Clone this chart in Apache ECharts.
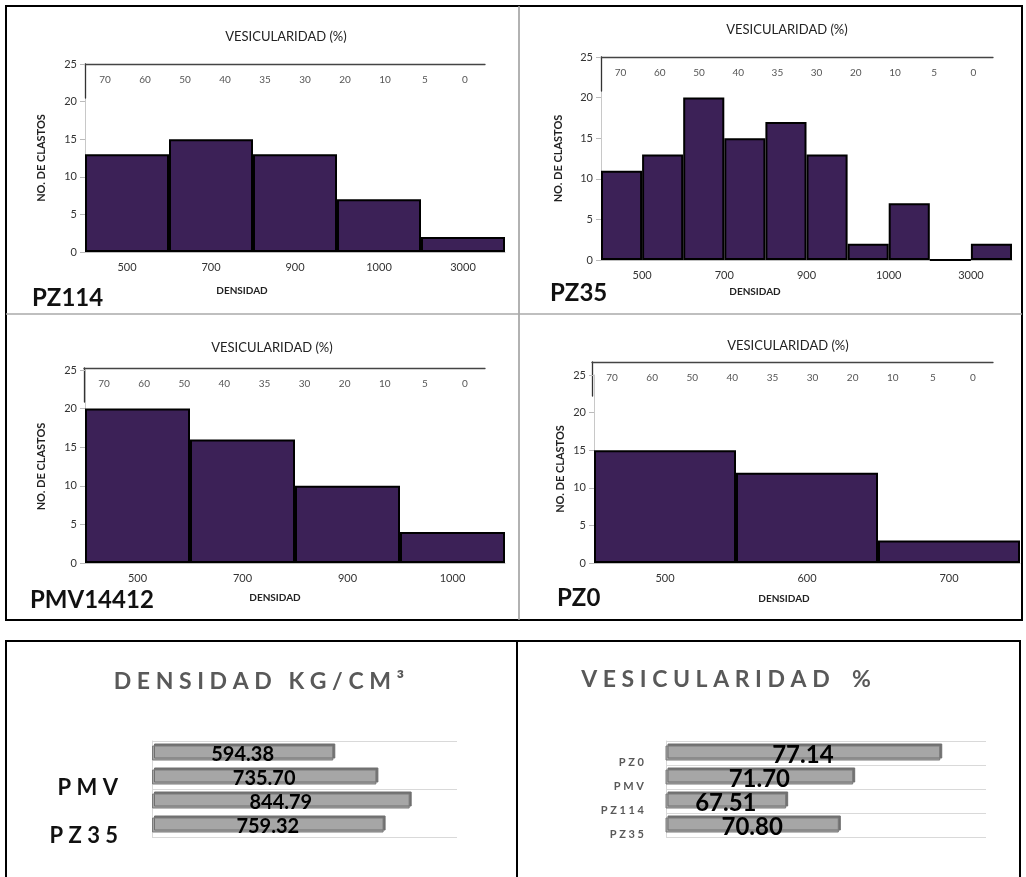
<!DOCTYPE html>
<html>
<head>
<meta charset="utf-8">
<title>Densidad y vesicularidad</title>
<script src="https://cdn.jsdelivr.net/npm/echarts@6/dist/echarts.min.js"></script>
<style>
  body { margin: 0; background: #fff; }
  #root { width: 1026px; height: 877px; }
</style>
</head>
<body>
<div id="root"></div>
<script>
// vesicularidad (%) ticks, top axis of every histogram
var vesLabels = ['70', '60', '50', '40', '35', '30', '20', '10', '5', '0'];

// histograms: density classes and number of clasts per bin
var pz114Dens = ['500', '700', '900', '1000', '3000'];
var pz114Count = [13, 15, 13, 7, 2];
var pz35Dens = ['500', '700', '900', '1000', '3000'];
var pz35Count = [11, 13, 20, 15, 17, 13, 2, 7, 0, 2];
var pmvDens = ['500', '700', '900', '1000'];
var pmvCount = [20, 16, 10, 4];
var pz0Dens = ['500', '600', '700'];
var pz0Count = [15, 12, 3];

// summary bars (bottom to top)
var muestras = ['P Z 3 5', 'P Z 1 1 4', 'P M V', 'P Z 0'];
var densidadMedia = [759.32, 844.79, 735.70, 594.38];
var vesicularidadMedia = [70.80, 67.51, 71.70, 77.14];

var FONT = 'Lato';
var chart = echarts.init(document.getElementById('root'));

var panels = [
  { tag: 'PZ114', counts: pz114Count, dens: pz114Dens,
    grid: { left: 85, top: 64, width: 420, height: 188 }, ves: { left: 85, top: 64, width: 400 },
    title: [286, 37], densTitle: [242, 291], tagPos: [32, 298], yGap: 38 },
  { tag: 'PZ35', counts: pz35Count, dens: pz35Dens,
    grid: { left: 601, top: 57, width: 411, height: 203 }, ves: { left: 601, top: 57, width: 392 },
    title: [787, 30], densTitle: [755, 292], tagPos: [550, 293], yGap: 37 },
  { tag: 'PMV14412', counts: pmvCount, dens: pmvDens,
    grid: { left: 85, top: 370, width: 420, height: 193 }, ves: { left: 84, top: 368, width: 401 },
    title: [272, 348], densTitle: [275, 598], tagPos: [30, 600], yGap: 38 },
  { tag: 'PZ0', counts: pz0Count, dens: pz0Dens,
    grid: { left: 594, top: 375, width: 426, height: 188 }, ves: { left: 592, top: 362, width: 401 },
    title: [788, 346], densTitle: [784, 599], tagPos: [557, 598], yGap: 28 }
];

var grids = [], xAxes = [], yAxes = [], series = [];
var graphics = [
  { type: 'rect', shape: { x: 6, y: 6, width: 1016, height: 614 }, style: { fill: 'none', stroke: '#000', lineWidth: 2 } },
  { type: 'line', shape: { x1: 519, y1: 6, x2: 519, y2: 620 }, style: { stroke: '#999', lineWidth: 1.5 } },
  { type: 'line', shape: { x1: 6, y1: 314, x2: 1022, y2: 314 }, style: { stroke: '#aaa', lineWidth: 1.5 } },
  { type: 'rect', shape: { x: 6, y: 641, width: 1014, height: 250 }, style: { fill: 'none', stroke: '#000', lineWidth: 2 } },
  { type: 'line', shape: { x1: 517, y1: 641, x2: 517, y2: 877 }, style: { stroke: '#000', lineWidth: 2 } }
];

function txt(text, x, y, size, weight, color, align) {
  return { type: 'text', z: 10, style: { text: text, x: x, y: y, align: align || 'center', verticalAlign: 'middle',
    fontSize: size, fontWeight: weight, fontFamily: FONT, fill: color } };
}

panels.forEach(function (p) {
  var g = grids.length;
  grids.push(p.grid);
  grids.push({ left: p.ves.left, top: p.ves.top, width: p.ves.width, height: 34 });

  // hidden bin axis for the bars
  xAxes.push({ gridIndex: g, type: 'category', position: 'top', show: false,
    data: p.counts.map(function (v, i) { return i; }) });
  // density labels
  xAxes.push({ gridIndex: g, type: 'category', position: 'bottom', data: p.dens,
    axisLine: { onZero: false, lineStyle: { color: '#bfbfbf' } },
    axisTick: { length: 4, lineStyle: { color: '#999' } },
    axisLabel: { margin: 10, fontSize: 11, color: '#333', fontFamily: FONT } });
  yAxes.push({ gridIndex: g, type: 'value', min: 0, max: 25, interval: 5,
    name: 'NO. DE CLASTOS', nameLocation: 'middle', nameGap: p.yGap, nameRotate: 90,
    nameTextStyle: { fontSize: 11, fontWeight: 'bold', fontFamily: FONT, color: '#222' },
    axisLine: { show: true, lineStyle: { color: '#c8c8c8' } },
    axisTick: { show: true, length: 5, lineStyle: { color: '#bbb' } },
    axisLabel: { margin: 8, fontSize: 11, color: '#333', fontFamily: FONT },
    splitLine: { show: false } });

  // vesicularidad top axis
  xAxes.push({ gridIndex: g + 1, type: 'category', position: 'top', data: vesLabels,
    axisLine: { onZero: false, lineStyle: { color: '#444', width: 1.3 } },
    axisTick: { inside: true, length: 3, lineStyle: { color: '#222', width: 2 } },
    axisLabel: { inside: true, margin: 11, fontSize: 10, color: '#555', fontFamily: FONT } });
  yAxes.push({ gridIndex: g + 1, type: 'value', min: 0, max: 1,
    axisLine: { show: true, onZero: false, lineStyle: { color: '#333', width: 1.3 } },
    axisTick: { show: false }, axisLabel: { show: false }, splitLine: { show: false } });

  series.push({ type: 'bar', xAxisIndex: xAxes.length - 3, yAxisIndex: yAxes.length - 2,
    data: p.counts, barCategoryGap: '0%',
    itemStyle: { color: '#3c2157', borderColor: '#000', borderWidth: 2 } });

  graphics.push(txt('VESICULARIDAD (%)', p.title[0], p.title[1], 13, 'normal', '#222'));
  graphics.push(txt('DENSIDAD', p.densTitle[0], p.densTitle[1], 10, 'bold', '#222'));
  graphics.push(txt(p.tag, p.tagPos[0], p.tagPos[1], 24, 'bold', '#111', 'left'));
});

// summary bar charts
function summary(gridBox, values, min, max, catStyle, labelSize) {
  var g = grids.length;
  grids.push(gridBox);
  xAxes.push({ gridIndex: g, type: 'value', min: min, max: max, show: false });
  yAxes.push({ gridIndex: g, type: 'category', data: muestras,
    axisLine: { show: true, lineStyle: { color: '#d9d9d9' } },
    axisTick: { show: false },
    splitLine: { show: true, lineStyle: { color: '#d9d9d9' } },
    axisLabel: catStyle });
  series.push({ type: 'bar', xAxisIndex: xAxes.length - 1, yAxisIndex: yAxes.length - 1,
    data: values, barWidth: 15,
    itemStyle: { color: '#a6a6a6', borderColor: '#7a7a7a', borderWidth: 1,
      shadowColor: '#707070', shadowOffsetX: 2, shadowOffsetY: -2, shadowBlur: 0 },
    label: { show: true, position: 'inside', offset: [0, 2], fontSize: labelSize, fontWeight: 'bold',
      fontFamily: FONT, color: '#000', formatter: function (d) { return d.value.toFixed(2); } } });
}

summary({ left: 152, top: 741, width: 305, height: 96 }, densidadMedia, 0, 1000,
  { interval: 1, margin: 34, verticalAlign: 'top', fontSize: 22, fontWeight: 'bold', color: '#111', fontFamily: FONT }, 20);
summary({ left: 666, top: 741, width: 320, height: 96 }, vesicularidadMedia, 60, 80,
  { interval: 0, margin: 22, verticalAlign: 'top', padding: [4, 0, 0, 0], fontSize: 11, fontWeight: 'bold', color: '#595959', fontFamily: FONT }, 24);

graphics.push(txt('D E N S I D A D   K G / C M ³', 259, 682, 23, 'bold', '#595959'));
graphics.push(txt('V E S I C U L A R I D A D    %', 726, 680, 23, 'bold', '#595959'));

chart.setOption({
  animation: false,
  grid: grids,
  xAxis: xAxes,
  yAxis: yAxes,
  series: series,
  graphic: graphics
});
</script>
</body>
</html>
